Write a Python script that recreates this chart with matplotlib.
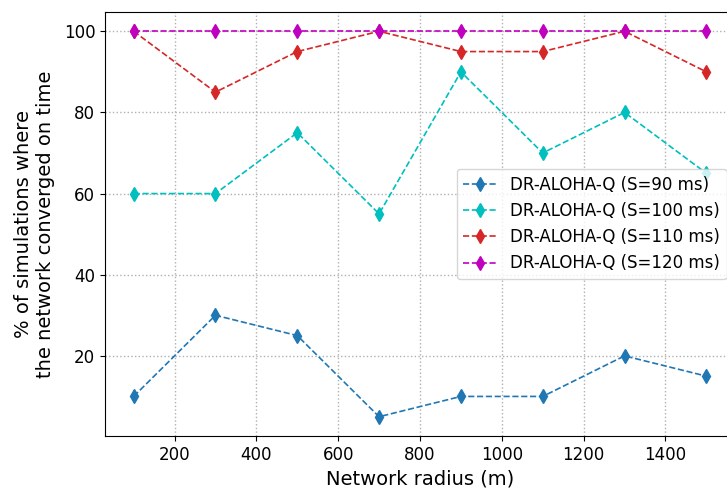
import numpy as np
import matplotlib.pyplot as plt

# datos
radios = [100, 300, 500, 700, 900, 1100, 1300, 1500]
s90 = [10, 30, 25, 5, 10, 10, 20, 15]
s100 = [60, 60, 75, 55, 90, 70, 80, 65]
s110 = [100, 85, 95, 100, 95, 95, 100, 90]
s120 = [100, 100, 100, 100, 100, 100, 100, 100]

etiquetas = ["DR-ALOHA-Q (S=90 ms)", "DR-ALOHA-Q (S=100 ms)",
             "DR-ALOHA-Q (S=110 ms)", "DR-ALOHA-Q (S=120 ms)"]
colores = ["#1f77b4", "#00bfbf", "#d62728", "#bf00bf"]

fig = plt.figure(figsize=(7.27, 4.88), dpi=100)
ax = fig.add_axes([105/727, 1 - 436/488, 630/727, 424/488])

for serie, lab, col in zip([s90, s100, s110, s120], etiquetas, colores):
    ax.plot(radios, serie, "--d", color=col, label=lab, markersize=7.5, linewidth=1.2)

ax.grid(True, linestyle=":", color="#b0b0b0", linewidth=1.0)
ax.set_xticks([200, 400, 600, 800, 1000, 1200, 1400])
ax.set_yticks([20, 40, 60, 80, 100])
ax.tick_params(labelsize=12)
ax.set_xlabel("Network radius (m)", fontsize=14)
ax.set_ylabel("% of simulations where\nthe network converged on time", fontsize=14, labelpad=6)
ax.legend(loc="center right", fontsize=12)

fig.savefig("out.png", dpi=100)
